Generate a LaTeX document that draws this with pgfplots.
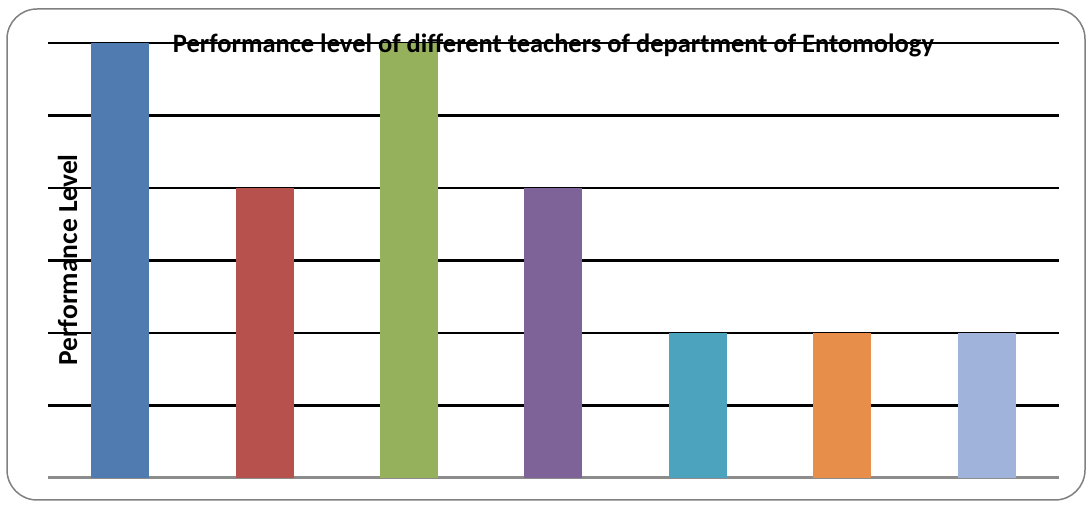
\documentclass[border=0pt]{standalone}
\usepackage{fontspec}
\setmainfont{Carlito}
\usepackage{pgfplots}
\pgfplotsset{compat=1.18}
\definecolor{c1}{HTML}{4F7BB1}
\definecolor{c2}{HTML}{B6514E}
\definecolor{c3}{HTML}{95B15B}
\definecolor{c4}{HTML}{7E6399}
\definecolor{c5}{HTML}{4BA3BE}
\definecolor{c6}{HTML}{E68E4A}
\definecolor{c7}{HTML}{A0B4DB}
\begin{document}
\begin{tikzpicture}[x=1pt,y=1pt]
\path[use as bounding box] (0,0) rectangle (1088,505);
\draw[color=black!50, line width=1.5pt, rounded corners=30pt] (7,5) rectangle (1085,496);
\begin{axis}[at={(48pt,27pt)}, anchor=south west, scale only axis,
  width=1011pt, height=435pt,
  xmin=-0.5, xmax=6.5, ymin=0, ymax=6,
  axis x line*=bottom, axis y line*=left,
  x axis line style={black!45, line width=3pt, -},
  y axis line style={draw=none, -},
  xtick=\empty, ytick={1,2,3,4,5,6}, yticklabels={},
  major tick length=0pt,
  ymajorgrids, grid style={black, line width=2.2pt},
  ybar, bar width=58pt, bar shift=0pt,
  every axis plot/.append style={draw=none},
]
\addplot[fill=c1] coordinates {(0,6)};
\addplot[fill=c2] coordinates {(1,4)};
\addplot[fill=c3] coordinates {(2,6)};
\addplot[fill=c4] coordinates {(3,4)};
\addplot[fill=c5] coordinates {(4,2)};
\addplot[fill=c6] coordinates {(5,2)};
\addplot[fill=c7] coordinates {(6,2)};
\end{axis}
\node[font=\bfseries\fontsize{26.5}{26.5}\selectfont, anchor=base] at (553.5,452) {Performance level of different teachers of department of Entomology};
\node[font=\bfseries\fontsize{27.5}{27.5}\selectfont, anchor=base, rotate=90] at (77,245) {Performance Level};
\end{tikzpicture}
\end{document}
